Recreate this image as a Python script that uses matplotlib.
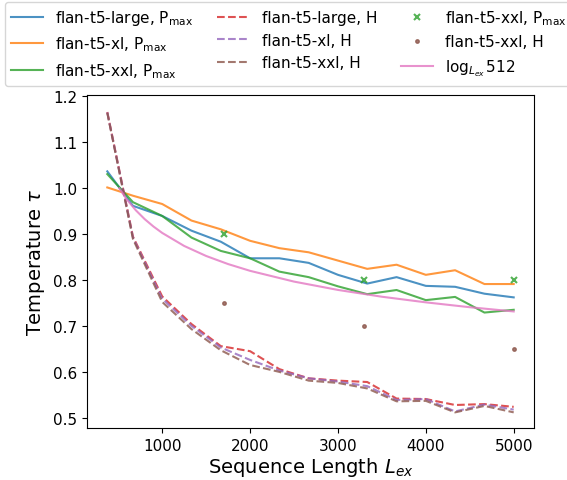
import matplotlib
matplotlib.use("Agg")
import matplotlib.pyplot as plt

# Sequence lengths for the measured curves
lengths = [375, 667, 1000, 1333, 1667, 2000, 2333, 2667, 3000, 3333, 3667, 4000, 4333, 4667, 5000]

large_pmax = [1.037, 0.962, 0.940, 0.908, 0.884, 0.848, 0.848, 0.838, 0.812, 0.793, 0.807, 0.788, 0.786, 0.771, 0.763]
xl_pmax    = [1.002, 0.984, 0.966, 0.930, 0.911, 0.886, 0.870, 0.861, 0.843, 0.825, 0.834, 0.812, 0.822, 0.792, 0.792]
xxl_pmax   = [1.031, 0.970, 0.940, 0.893, 0.864, 0.848, 0.819, 0.807, 0.787, 0.770, 0.779, 0.757, 0.764, 0.730, 0.736]

large_h = [1.166, 0.895, 0.765, 0.705, 0.657, 0.646, 0.607, 0.587, 0.582, 0.579, 0.543, 0.542, 0.529, 0.531, 0.525]
xl_h    = [1.165, 0.893, 0.760, 0.701, 0.654, 0.627, 0.604, 0.587, 0.580, 0.570, 0.540, 0.542, 0.515, 0.530, 0.519]
xxl_h   = [1.164, 0.890, 0.753, 0.694, 0.648, 0.616, 0.601, 0.582, 0.577, 0.565, 0.537, 0.538, 0.513, 0.527, 0.513]

# single-point measurements for flan-t5-xxl
xxl_pmax_pts_x = [1700, 3300, 5000]
xxl_pmax_pts_y = [0.900, 0.800, 0.800]
xxl_h_pts_x = [1700, 3300, 5000]
xxl_h_pts_y = [0.750, 0.700, 0.650]

# reference curve log_{Lex} 512
log_x = [512, 600, 700, 800, 900, 1000, 1250, 1500, 1750, 2000, 2500, 3000, 3500, 4000, 4500, 5000]
log_y = [1.000, 0.9752, 0.9523, 0.9332, 0.9171, 0.9031, 0.8748, 0.8530, 0.8354, 0.8207,
         0.7973, 0.7792, 0.7644, 0.7522, 0.7416, 0.7324]

xticks = [1000, 2000, 3000, 4000, 5000]
yticks = [0.5, 0.6, 0.7, 0.8, 0.9, 1.0, 1.1, 1.2]

fig = plt.figure(figsize=(5.67, 4.81), dpi=100)
ax = fig.add_axes([87/567, 1 - 429/481, (534 - 87)/567, (429 - 96)/481])

lw = 1.5
a = 0.8
ax.plot(lengths, large_pmax, color="tab:blue", lw=lw, alpha=a, label=r"flan-t5-large, P$_{\max}$")
ax.plot(lengths, xl_pmax, color="tab:orange", lw=lw, alpha=a, label=r"flan-t5-xl, P$_{\max}$")
ax.plot(lengths, xxl_pmax, color="tab:green", lw=lw, alpha=a, label=r"flan-t5-xxl, P$_{\max}$")
ax.plot(lengths, large_h, color="tab:red", lw=lw, alpha=a, ls="--", label="flan-t5-large, H")
ax.plot(lengths, xl_h, color="tab:purple", lw=lw, alpha=a, ls="--", label="flan-t5-xl, H")
ax.plot(lengths, xxl_h, color="tab:brown", lw=lw, alpha=a, ls="--", label="flan-t5-xxl, H")
ax.plot(xxl_pmax_pts_x, xxl_pmax_pts_y, ls="none", marker="x", color="tab:green", alpha=a,
        markersize=5, markeredgewidth=1.5, label=r"flan-t5-xxl, P$_{\max}$")
ax.plot(xxl_h_pts_x, xxl_h_pts_y, ls="none", marker=".", color="tab:brown", alpha=a,
        markersize=5, label="flan-t5-xxl, H")
ax.plot(log_x, log_y, color="tab:pink", lw=lw, alpha=a, label=r"$\log_{L_{ex}}512$")

ax.set_xticks(xticks)
ax.set_yticks(yticks)
ax.set_xlim(144, 5231)
ax.set_ylim(0.479, 1.203)
ax.tick_params(labelsize=11)
ax.set_xlabel(r"Sequence Length $L_{ex}$", fontsize=14, labelpad=2)
ax.set_ylabel(r"Temperature $\tau$", fontsize=14)

fig.legend(loc="upper left", bbox_to_anchor=(5/567, 1 - 3/481), borderaxespad=0,
           ncol=3, fontsize=11, frameon=True, columnspacing=1.55, labelspacing=0.5,
           handlelength=2.1)

fig.savefig("out.png", dpi=100)
